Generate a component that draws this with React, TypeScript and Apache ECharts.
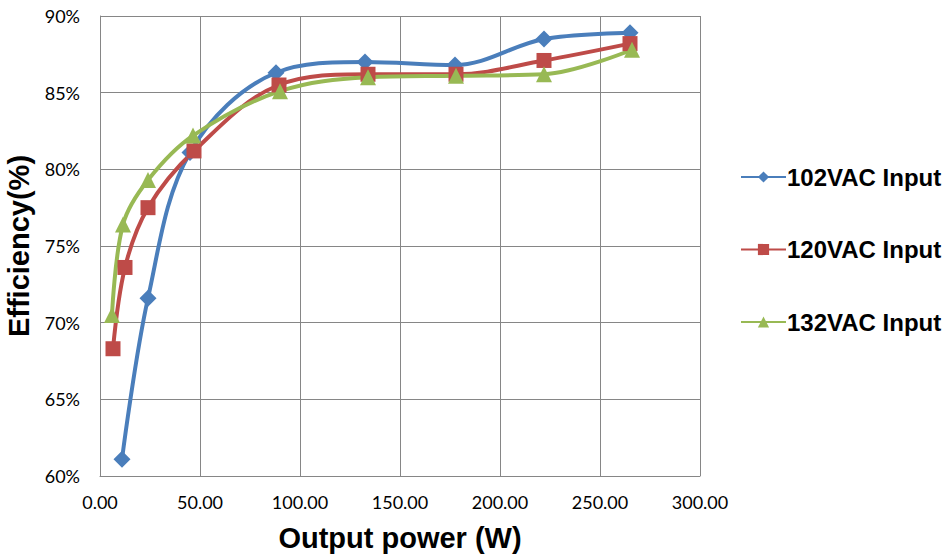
import React, { useEffect, useRef } from "react";
import * as echarts from "echarts";

const power102 = [11, 24, 45, 88, 132.5, 177.5, 222, 265];
const eff102 = [61.1, 71.6, 81.1, 86.3, 87.0, 86.8, 88.5, 88.9];

const power120 = [6.5, 12.5, 24, 47, 89.5, 134, 178, 222, 265];
const eff120 = [68.3, 73.6, 77.5, 81.2, 85.5, 86.2, 86.2, 87.1, 88.2];

const power132 = [6, 11.5, 24, 46.5, 90, 134, 178, 222, 266];
const eff132 = [70.5, 76.4, 79.3, 82.2, 85.1, 86.0, 86.1, 86.2, 87.8];

const seriesNames = ["102VAC Input", "120VAC Input", "132VAC Input"];
const colors = ["#4a7ebb", "#be4b48", "#98b954"];
const xTicks = { min: 0, max: 300, interval: 50 };
const yTicks = { min: 60, max: 90, interval: 5 };

const zip = (xs: number[], ys: number[]) => xs.map((x, i) => [x, ys[i]]);

export default function App() {
  const ref = useRef<HTMLDivElement>(null);
  useEffect(() => {
    if (!ref.current) return;
    const chart = echarts.init(ref.current, null, { renderer: "svg" });
    const tickFont = { fontFamily: "Lato, 'Open Sans', sans-serif", fontSize: 18, color: "#000" };
    const nameFont = { fontFamily: "Liberation Sans, Arial, sans-serif", fontWeight: "bold", color: "#000" };
    const mk = (name: string, data: number[][], color: string, symbol: string, size: number) => ({
      name,
      type: "line",
      data,
      smooth: 0.35,
      symbol,
      symbolSize: size,
      lineStyle: { width: 4, color },
      itemStyle: { color },
      z: 3,
    });
    chart.setOption({
      animation: false,
      backgroundColor: "#fff",
      grid: { left: 100, top: 16, right: 250, bottom: 81, containLabel: false, outerBoundsMode: "none" },
      xAxis: {
        type: "value",
        min: xTicks.min,
        max: xTicks.max,
        interval: xTicks.interval,
        axisLine: { show: true, lineStyle: { color: "#868686", width: 1 } },
        axisTick: { show: false },
        splitLine: { show: true, lineStyle: { color: "#868686", width: 1 } },
        axisLabel: { ...tickFont, margin: 17, formatter: (v: number) => v.toFixed(2) },
        name: "Output power (W)",
        nameLocation: "middle",
        nameGap: 47,
        nameTextStyle: { ...nameFont, fontSize: 29 },
      },
      yAxis: {
        type: "value",
        min: yTicks.min,
        max: yTicks.max,
        interval: yTicks.interval,
        axisLine: { show: true, lineStyle: { color: "#868686", width: 1 } },
        axisTick: { show: false },
        splitLine: { show: true, lineStyle: { color: "#868686", width: 1 } },
        axisLabel: { ...tickFont, margin: 20, formatter: (v: number) => v + "%" },
        name: "Efficiency(%)",
        nameLocation: "middle",
        nameGap: 52,
        nameTextStyle: { ...nameFont, fontSize: 29 },
      },
      legend: {
        orient: "vertical",
        left: 735,
        top: 160,
        itemGap: 48.5,
        itemWidth: 45,
        itemHeight: 14,
        data: seriesNames,
        textStyle: { ...nameFont, fontSize: 24, padding: [0, 0, 0, -4] },
      },
      series: [
        mk(seriesNames[0], zip(power102, eff102), colors[0], "diamond", 17),
        mk(seriesNames[1], zip(power120, eff120), colors[1], "rect", 15),
        mk(seriesNames[2], zip(power132, eff132), colors[2], "triangle", 16),
      ],
    });
    return () => chart.dispose();
  }, []);
  return <div ref={ref} style={{ width: 950, height: 557, position: "absolute", left: 0, top: 0 }} />;
}
